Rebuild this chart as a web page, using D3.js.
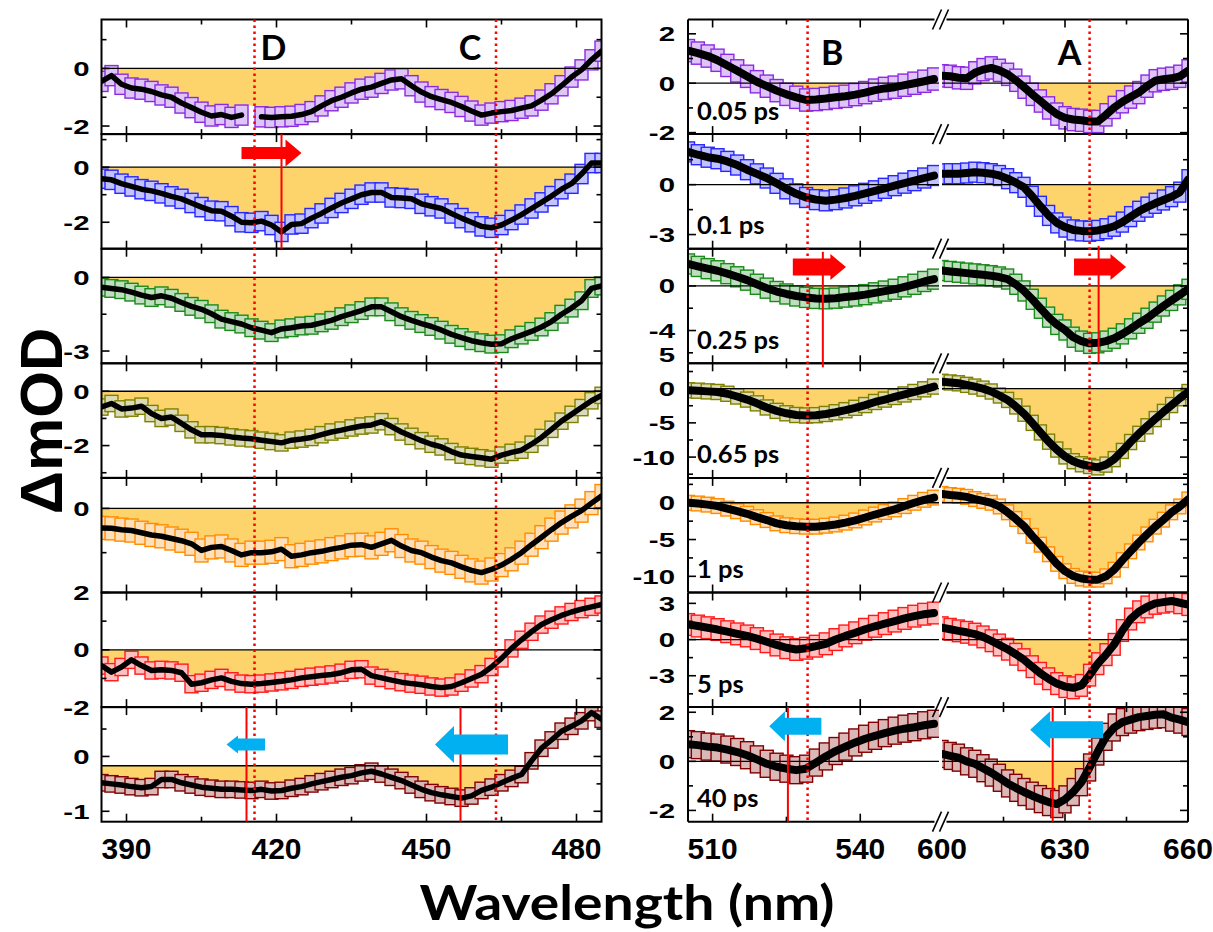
<!DOCTYPE html>
<html><head><meta charset="utf-8">
<script src="https://cdn.jsdelivr.net/npm/d3@7"></script>
<style>body{margin:0;background:#fff} svg{display:block}</style>
</head><body><svg id="c" width="1213" height="932"></svg>
<script>
// ---------------- data ----------------
const wlLeft = [385,387,389,391,393,395,397,399,401,403,405,407,409,411,413,415,417,419,421,423,425,427,429,431,433,435,437,439,441,443,445,447,449,451,453,455,457,459,461,463,465,467,469,471,473,475,477,479,481,483,485];
const wlB = [505,507,509,511,513,515,517,519,521,523,525,527,529,531,533,535,537,539,541,543,545,547,549,551,553,555];
const wlA = [600,602,604,606,608,610,612,614,616,618,620,622,624,626,628,630,632,634,636,638,640,642,644,646,648,650,652,654,656,658,660];
const delays = ["0.05 ps","0.1 ps","0.25 ps","0.65 ps","1 ps","5 ps","40 ps"];
const seriesColors = ["#8a2be2","#2626ff","#1a8a1a","#808000","#ff8c00","#ff1a1a","#800000"];

const left005 = [-0.45,-0.25,-0.55,-0.68,-0.72,-0.8,-0.92,-1.0,-1.2,-1.36,-1.52,-1.65,-1.6,-1.7,-1.62,null,-1.68,-1.7,-1.68,-1.66,-1.6,-1.5,-1.3,-1.12,-1.0,-0.85,-0.72,-0.65,-0.52,-0.4,-0.36,-0.6,-0.82,-0.98,-1.08,-1.18,-1.32,-1.48,-1.62,-1.55,-1.5,-1.46,-1.38,-1.3,-1.1,-0.88,-0.6,-0.3,-0.05,0.3,0.6];
const left01 = [-0.42,-0.46,-0.6,-0.7,-0.8,-0.86,-0.95,-1.06,-1.15,-1.3,-1.45,-1.58,-1.6,-1.78,-2.0,-2.02,-1.96,-2.1,-2.35,-2.08,-2.05,-1.85,-1.68,-1.48,-1.3,-1.15,-1.0,-0.92,-0.92,-1.1,-1.12,-1.15,-1.33,-1.42,-1.5,-1.68,-1.85,-2.0,-2.15,-2.2,-2.1,-1.92,-1.72,-1.5,-1.28,-1.05,-0.8,-0.6,-0.25,0.15,0.15];
const left025 = [-0.4,-0.45,-0.5,-0.6,-0.72,-0.82,-0.75,-0.85,-1.02,-1.18,-1.3,-1.48,-1.7,-1.8,-1.9,-2.05,-2.15,-2.25,-2.1,-2.05,-1.98,-1.95,-1.85,-1.75,-1.6,-1.48,-1.35,-1.2,-1.2,-1.4,-1.6,-1.75,-1.88,-2.0,-2.15,-2.32,-2.45,-2.58,-2.66,-2.72,-2.7,-2.5,-2.35,-2.2,-2.02,-1.8,-1.5,-1.25,-0.95,-0.45,-0.35];
const left065 = [-0.58,-0.45,-0.65,-0.62,-0.55,-0.82,-1.0,-0.95,-1.18,-1.42,-1.6,-1.6,-1.63,-1.68,-1.72,-1.75,-1.8,-1.85,-1.9,-1.8,-1.76,-1.7,-1.6,-1.5,-1.43,-1.35,-1.28,-1.24,-1.12,-1.3,-1.5,-1.66,-1.82,-1.95,-2.05,-2.22,-2.35,-2.4,-2.45,-2.5,-2.35,-2.25,-2.17,-1.95,-1.7,-1.4,-1.1,-0.85,-0.6,-0.35,-0.15];
const left1 = [-0.44,-0.45,-0.48,-0.5,-0.55,-0.6,-0.63,-0.68,-0.73,-0.8,-0.95,-0.88,-0.86,-0.95,-1.05,-1.0,-1.0,-0.98,-0.92,-1.08,-1.05,-1.0,-0.97,-0.92,-0.88,-0.83,-0.82,-0.88,-0.8,-0.72,-0.85,-0.95,-1.0,-1.1,-1.18,-1.23,-1.32,-1.4,-1.45,-1.38,-1.28,-1.15,-1.0,-0.82,-0.65,-0.48,-0.32,-0.18,-0.05,0.12,0.28];
const left5 = [-0.55,-0.78,-0.6,-0.35,-0.55,-0.72,-0.7,-0.72,-0.8,-1.2,-1.15,-1.05,-0.98,-1.1,-1.18,-1.2,-1.18,-1.14,-1.1,-1.05,-0.98,-0.94,-0.9,-0.86,-0.8,-0.7,-0.68,-0.9,-0.98,-1.06,-1.13,-1.18,-1.22,-1.28,-1.32,-1.28,-1.15,-1.0,-0.85,-0.6,-0.3,0.05,0.35,0.63,0.88,1.05,1.2,1.32,1.42,1.5,1.58];
const left40 = [-0.48,-0.5,-0.52,-0.55,-0.57,-0.55,-0.42,-0.42,-0.48,-0.52,-0.56,-0.58,-0.6,-0.6,-0.61,-0.62,-0.6,-0.63,-0.62,-0.58,-0.55,-0.5,-0.46,-0.42,-0.38,-0.35,-0.3,-0.27,-0.32,-0.38,-0.44,-0.52,-0.6,-0.66,-0.7,-0.73,-0.76,-0.72,-0.62,-0.56,-0.48,-0.4,-0.33,-0.08,0.15,0.3,0.46,0.55,0.65,0.8,0.68];

const right005B = [1.32,1.22,1.1,0.93,0.72,0.5,0.28,0.06,-0.12,-0.3,-0.45,-0.57,-0.68,-0.66,-0.62,-0.57,-0.53,-0.46,-0.38,-0.28,-0.21,-0.16,-0.08,0,0.08,0.17];
const right005A = [0.3,0.28,0.22,0.2,0.42,0.55,0.62,0.52,0.36,0.12,-0.16,-0.45,-0.72,-1.0,-1.25,-1.4,-1.47,-1.5,-1.55,-1.55,-1.28,-0.98,-0.75,-0.56,-0.38,-0.12,0.1,0.16,0.2,0.28,0.5];
const right01B = [1.97,1.8,1.65,1.56,1.4,1.18,0.9,0.65,0.4,0.08,-0.25,-0.55,-0.77,-0.9,-0.97,-0.9,-0.8,-0.67,-0.52,-0.37,-0.22,-0.06,0.09,0.24,0.4,0.55];
const right01A = [0.65,0.66,0.66,0.7,0.75,0.72,0.66,0.55,0.36,0.12,-0.16,-0.7,-1.3,-1.85,-2.3,-2.55,-2.72,-2.78,-2.8,-2.75,-2.65,-2.5,-2.25,-1.92,-1.6,-1.35,-1.12,-0.92,-0.72,-0.45,0.3];
const right025B = [1.97,1.75,1.55,1.36,1.1,0.82,0.52,0.15,-0.2,-0.5,-0.72,-0.9,-1.03,-1.12,-1.15,-1.1,-1.0,-0.9,-0.78,-0.62,-0.46,-0.3,-0.08,0.15,0.4,0.61];
const right025A = [1.38,1.3,1.23,1.15,1.08,1.0,0.92,0.8,0.62,0.15,-0.45,-1.2,-2.0,-2.8,-3.45,-3.95,-4.6,-4.95,-5.15,-5.1,-4.95,-4.7,-4.3,-3.85,-3.35,-2.9,-2.35,-1.8,-1.3,-0.8,-0.3];
const right065B = [-0.24,-0.3,-0.4,-0.49,-0.75,-1.15,-1.6,-2.15,-2.75,-3.25,-3.6,-3.85,-3.92,-3.88,-3.7,-3.45,-3.15,-2.8,-2.4,-1.95,-1.6,-1.22,-0.85,-0.49,-0.1,0.3];
const right065A = [1.0,0.9,0.78,0.55,0.3,0.0,-0.42,-1.0,-1.65,-2.6,-3.66,-5.0,-6.4,-7.75,-8.9,-9.9,-10.6,-11.05,-11.3,-11.5,-11.1,-10.3,-9.1,-7.8,-6.6,-5.5,-4.45,-3.4,-2.4,-1.4,-0.5];
const right1B = [0.0,-0.1,-0.25,-0.45,-0.8,-1.15,-1.5,-1.95,-2.35,-2.8,-3.05,-3.18,-3.25,-3.25,-3.12,-2.95,-2.7,-2.4,-2.0,-1.6,-1.25,-0.9,-0.45,0,0.4,0.7];
const right1A = [1.2,1.05,0.95,0.8,0.5,0.25,0.0,-0.5,-1.3,-2.2,-3.18,-4.5,-5.7,-7.0,-8.3,-9.3,-9.95,-10.3,-10.45,-10.45,-10.0,-9.1,-7.8,-6.6,-5.4,-4.3,-3.25,-2.3,-1.3,-0.5,0.45];
const right5B = [1.25,1.12,0.98,0.83,0.65,0.47,0.3,0.08,-0.18,-0.45,-0.68,-0.82,-0.72,-0.55,-0.35,0.0,0.3,0.56,0.85,1.1,1.32,1.53,1.75,1.94,2.1,2.2];
const right5A = [0.98,0.85,0.72,0.6,0.45,0.22,-0.1,-0.45,-0.8,-1.22,-1.67,-2.25,-2.8,-3.25,-3.65,-3.9,-4.0,-3.8,-2.95,-2.0,-1.25,-0.4,0.75,1.7,2.3,2.7,3.0,3.1,3.2,3.05,2.9];
const right40B = [0.7,0.66,0.6,0.56,0.48,0.38,0.25,0.08,-0.1,-0.22,-0.3,-0.36,-0.3,-0.05,0.2,0.42,0.6,0.77,0.92,1.04,1.15,1.25,1.33,1.39,1.47,1.53];
const right40A = [0.3,0.22,0.15,0.0,-0.1,-0.28,-0.46,-0.67,-0.9,-1.08,-1.25,-1.4,-1.54,-1.66,-1.74,-1.55,-1.25,-0.85,-0.25,0.4,1.0,1.38,1.6,1.7,1.8,1.85,1.9,1.92,1.78,1.7,1.6];

const leftSeries = [left005,left01,left025,left065,left1,left5,left40];
const rightSeriesB = [right005B,right01B,right025B,right065B,right1B,right5B,right40B];
const rightSeriesA = [right005A,right01A,right025A,right065A,right1A,right5A,right40A];
const errLeft = [0.35,0.35,0.36,0.3,0.26,0.3,0.15];
const errRight = [0.45,0.6,0.9,1.1,1.0,0.9,0.55];
const baseLeft = [0,0,0,0,0,0,-0.17];
const baseRight = [0,0,0,0,0,0,0];

// axes
const leftDomains = [[-2.28,1.7],[-2.96,1.2],[-3.5,1.17],[-3.19,1.03],[-1.9,0.69],[-2,2],[-1.19,0.9]];
const leftMajor = [[0,-2],[0,-2],[0,-3],[0,-2],[0],[2,0,-2],[0,-1]];
const leftMinor = [[1,-1],[1,-1],[-1.5],[-1,-3],[-1],[1,-1],[0.5,-0.5]];
const rightDomains = [[-2.06,2.58],[-3.85,3.04],[-6.94,3.34],[-13.04,3.7],[-12.2,3.38],[-5.6,3.9],[-2.46,2.21]];
const rightMajor = [[2,0,-2],[0,-3],[0,-4],[5,0,-5,-10],[0,-5,-10],[3,0,-3],[2,0,-2]];
const rightMinor = [[1,-1],[1.5,-1.5],[2,-2,-6],[2.5,-2.5,-7.5,-12.5],[2.5,-2.5,-7.5],[1.5,-1.5,-4.5],[1,-1]];
const xTicksLeft = [390,420,450,480];
const xMinorLeft = [405,435,465];
const xTicksB = [510,540];
const xMinorB = [525];
const xTicksA = [630,660];
const xMinorA = [615,645];
const xLabelsRight = [510,540,600,630,660];

// annotations
const peakLetters = [{t:"D",wl:419.4,side:"L"},{t:"C",wl:458.7,side:"L"},{t:"B",wl:534.3,side:"B"},{t:"A",wl:631.1,side:"A"}];
const dottedLines = [{wl:415.6,side:"L"},{wl:463.9,side:"L"},{wl:529.3,side:"B"},{wl:636,side:"A"}];
const solidLines = [{p:1,wl:421,side:"L"},{p:6,wl:414,side:"L"},{p:6,wl:456.8,side:"L"},
  {p:2,wl:532.4,side:"B",v1:3.06,v2:-7.3},{p:2,wl:638.2,side:"A",v1:3.6,v2:-6.94},
  {p:6,wl:525.3,side:"B"},{p:6,wl:627,side:"A"}];
const arrows = [
  {p:1,side:"L",from:413.0,to:425.0,v:0.51,shaft:12,head:27,hl:16,c:"#ff0000"},
  {p:6,side:"L",from:417.7,to:410.0,v:0.22,shaft:12,head:18,hl:11.5,c:"#00b0f0"},
  {p:6,side:"L",from:466.3,to:451.7,v:0.22,shaft:20,head:37,hl:19,c:"#00b0f0"},
  {p:2,side:"B",from:526.3,to:537.1,v:1.7,shaft:17,head:26,hl:15.6,c:"#ff0000"},
  {p:2,side:"A",from:632.2,to:644.9,v:1.7,shaft:17,head:26,hl:15.6,c:"#ff0000"},
  {p:6,side:"B",from:532.1,to:521.5,v:1.43,shaft:17,head:30,hl:15.7,c:"#00b0f0"},
  {p:6,side:"A",from:639.3,to:621.5,v:1.29,shaft:17,head:37,hl:20,c:"#00b0f0"}];

// ---------------- layout ----------------
const svg = d3.select('#c');
const TOP = 19.5, PH = 114.6, NP = 7;
const BOTTOM = TOP + NP*PH;
const pTop = i => TOP + i*PH;
const xL = d3.scaleLinear([385,485],[101.5,601.5]);
const xB = d3.scaleLinear([505,556],[688,939]);
const xA = d3.scaleLinear([600,660],[942,1188]);
const xs = {L:xL, B:xB, A:xA};
const FILL = "#fdd46b";
const TICKFONT = "'Liberation Sans', Arial, sans-serif";
const CALFONT = "Lato, 'Open Sans', sans-serif";
const defs = svg.append('defs');

const yL = leftDomains.map((d,i)=>d3.scaleLinear(d,[pTop(i)+PH,pTop(i)]));
const yR = rightDomains.map((d,i)=>d3.scaleLinear(d,[pTop(i)+PH,pTop(i)]));
const yOf = (side,p) => side==="L" ? yL[p] : yR[p];

let clipN = 0;
function drawSeries(g, x, y, wl, vals, err, base, color, rectW, lineW){
  const id = 'clip'+(clipN++);
  const [x0,x1] = x.range();
  defs.append('clipPath').attr('id',id).append('rect')
    .attr('x',x0).attr('y',y.range()[1]).attr('width',x1-x0).attr('height',y.range()[0]-y.range()[1]);
  const pts = wl.map((w,k)=>({w, v: vals[k]}));
  const ok = pts.filter(d=>d.v!=null);
  const gg = g.append('g').attr('clip-path',`url(#${id})`);
  gg.append('path').datum(ok)
    .attr('d', d3.area().x(d=>x(d.w)).y0(y(base)).y1(d=>y(Math.min(d.v+err, base))))
    .attr('fill', FILL);
  const tint = d3.interpolateRgb('#ffffff', color)(0.28);
  gg.selectAll('rect.eb').data(ok).join('rect').attr('class','eb')
    .attr('x', d=>x(d.w)-rectW/2).attr('width', rectW)
    .attr('y', d=>y(d.v+err)).attr('height', d=>y(d.v-err)-y(d.v+err))
    .attr('fill',tint).attr('stroke',color).attr('stroke-width',1.4);
  gg.append('line').attr('x1',x0).attr('x2',x1).attr('y1',y(base)).attr('y2',y(base))
    .attr('stroke','#000').attr('stroke-width',1.3);
  gg.append('path').datum(pts)
    .attr('d', d3.line().defined(d=>d.v!=null).x(d=>x(d.w)).y(d=>y(d.v)))
    .attr('fill','none').attr('stroke','#000').attr('stroke-width',lineW)
    .attr('stroke-linejoin','round').attr('stroke-linecap','round');
}

const gData = svg.append('g');
for(let i=0;i<NP;i++){
  drawSeries(gData, xL, yL[i], wlLeft, leftSeries[i], errLeft[i], baseLeft[i], seriesColors[i], 13, 5.5);
  drawSeries(gData, xB, yR[i], wlB, rightSeriesB[i], errRight[i], baseRight[i], seriesColors[i], 13, 8);
  drawSeries(gData, xA, yR[i], wlA, rightSeriesA[i], errRight[i], baseRight[i], seriesColors[i], 12, 8);
}

// frames & ticks
const gAx = svg.append('g').attr('stroke','#000');
function xTicks(x, majors, minors, i){
  const t = pTop(i), b = pTop(i)+PH;
  majors.forEach(w=>{
    gAx.append('line').attr('x1',x(w)).attr('x2',x(w)).attr('y1',b).attr('y2',b-8).attr('stroke-width',1.6);
    gAx.append('line').attr('x1',x(w)).attr('x2',x(w)).attr('y1',t).attr('y2',t+8).attr('stroke-width',1.6);
  });
  minors.forEach(w=>{
    gAx.append('line').attr('x1',x(w)).attr('x2',x(w)).attr('y1',b).attr('y2',b-5).attr('stroke-width',1.6);
    gAx.append('line').attr('x1',x(w)).attr('x2',x(w)).attr('y1',t).attr('y2',t+5).attr('stroke-width',1.6);
  });
}
function yTicks(y, xl, xr, majors, minors){
  const d = y.domain();
  const inside = v => v>=d[0]-1e-6 && v<=d[1]+1e-6;
  majors.filter(inside).forEach(v=>{
    gAx.append('line').attr('x1',xl).attr('x2',xl+8).attr('y1',y(v)).attr('y2',y(v)).attr('stroke-width',1.6);
    gAx.append('line').attr('x1',xr).attr('x2',xr-8).attr('y1',y(v)).attr('y2',y(v)).attr('stroke-width',1.6);
  });
  minors.filter(inside).forEach(v=>{
    gAx.append('line').attr('x1',xl).attr('x2',xl+5).attr('y1',y(v)).attr('y2',y(v)).attr('stroke-width',1.6);
    gAx.append('line').attr('x1',xr).attr('x2',xr-5).attr('y1',y(v)).attr('y2',y(v)).attr('stroke-width',1.6);
  });
}
for(let i=0;i<NP;i++){
  const t = pTop(i), b = t+PH;
  gAx.append('rect').attr('x',101.5).attr('y',t).attr('width',500).attr('height',PH)
    .attr('fill','none').attr('stroke-width',2);
  gAx.append('line').attr('x1',688).attr('x2',688).attr('y1',t).attr('y2',b).attr('stroke-width',2);
  gAx.append('line').attr('x1',1188).attr('x2',1188).attr('y1',t).attr('y2',b).attr('stroke-width',2);
  [t,b].forEach(yy=>{
    gAx.append('line').attr('x1',688).attr('x2',939).attr('y1',yy).attr('y2',yy).attr('stroke-width',2);
    gAx.append('line').attr('x1',942).attr('x2',1188).attr('y1',yy).attr('y2',yy).attr('stroke-width',2);
  });
  xTicks(xL, xTicksLeft, xMinorLeft, i);
  xTicks(xB, xTicksB, xMinorB, i);
  xTicks(xA, xTicksA, xMinorA, i);
  yTicks(yL[i], 101.5, 601.5, leftMajor[i], leftMinor[i]);
  yTicks(yR[i], 688, 1188, rightMajor[i], rightMinor[i]);
}
// break marks
for(let k=0;k<=NP;k++){
  const yy = pTop(k), xm = (939+942)/2;
  gAx.append('rect').attr('x',xm-6).attr('y',yy-2).attr('width',12).attr('height',4).attr('fill','#fff').attr('stroke','none');
  [-3.5,3.5].forEach(o=>{
    gAx.append('line').attr('x1',xm+o-4.5).attr('y1',yy+10).attr('x2',xm+o+4.5).attr('y2',yy-10).attr('stroke-width',1.6);
  });
}

// tick labels (horizontally stretched bold glyphs as in the figure)
const gLab = svg.append('g').attr('font-family',TICKFONT).attr('font-weight','bold').attr('fill','#000');
function yLabel(x, y, v){
  gLab.append('text').attr('transform',`translate(${x},${y}) scale(1.4,1)`).attr('dy','0.36em')
    .attr('text-anchor','end').attr('font-size',21).text(String(v));
}
for(let i=0;i<NP;i++){
  leftMajor[i].forEach(v=> yLabel(89.5, yL[i](v), v));
  rightMajor[i].forEach(v=> yLabel(675, yR[i](v), v));
}
xTicksLeft.forEach(w=>{
  gLab.append('text').attr('x',xL(w)).attr('y',848).attr('dy','0.36em').attr('text-anchor','middle').attr('font-size',30).text(w);
});
xLabelsRight.forEach(w=>{
  const x = w<580 ? xB(w) : xA(w);
  gLab.append('text').attr('x',x).attr('y',848).attr('dy','0.36em').attr('text-anchor','middle').attr('font-size',30).text(w);
});

// delay labels
const gT = svg.append('g').attr('font-family',CALFONT).attr('font-weight','bold').attr('fill','#000');
delays.forEach((d,i)=>{
  gT.append('text').attr('x',697).attr('y',pTop(i)+91).attr('dy','0.36em').attr('font-size',25.5).text(d);
});
peakLetters.forEach(p=>{
  gT.append('text').attr('x',xs[p.side](p.wl)).attr('y', p.side==="L"?48:53).attr('dy','0.36em')
    .attr('text-anchor','middle').attr('font-size',34).text(p.t);
});

// red solid lines
const gAnn = svg.append('g');
solidLines.forEach(s=>{
  const y = yOf(s.side,s.p);
  const y1 = s.v1!=null ? y(s.v1) : pTop(s.p);
  const y2 = s.v2!=null ? y(s.v2) : pTop(s.p)+PH;
  gAnn.append('line').attr('x1',xs[s.side](s.wl)).attr('x2',xs[s.side](s.wl)).attr('y1',y1).attr('y2',y2)
    .attr('stroke','#ff0000').attr('stroke-width',2);
});
dottedLines.forEach(s=>{
  gAnn.append('line').attr('x1',xs[s.side](s.wl)).attr('x2',xs[s.side](s.wl)).attr('y1',TOP).attr('y2',BOTTOM)
    .attr('stroke','#ff0000').attr('stroke-width',2.5).attr('stroke-dasharray','2.5,3.5');
});
arrows.forEach(a=>{
  const x = xs[a.side], y = yOf(a.side,a.p)(a.v);
  const x0 = x(a.from), x1 = x(a.to), dir = Math.sign(x1-x0);
  const xb = x1 - dir*a.hl;
  const pts = [[x0,y-a.shaft/2],[xb,y-a.shaft/2],[xb,y-a.head/2],[x1,y],[xb,y+a.head/2],[xb,y+a.shaft/2],[x0,y+a.shaft/2]];
  gAnn.append('path').attr('d','M'+pts.map(p=>p.join(',')).join('L')+'Z').attr('fill',a.c);
});

// axis titles
svg.append('text').attr('transform','translate(40,421) rotate(-90)').attr('dy','0.36em')
  .attr('text-anchor','middle').attr('font-family',TICKFONT).attr('font-weight','bold').attr('font-size',60).text('ΔmOD');
svg.append('text').attr('x',627).attr('y',920).attr('text-anchor','middle')
  .attr('font-family',CALFONT).attr('font-weight','bold').attr('font-size',47)
  .attr('textLength',415).attr('lengthAdjust','spacingAndGlyphs').text('Wavelength (nm)');
</script>
</body></html>
